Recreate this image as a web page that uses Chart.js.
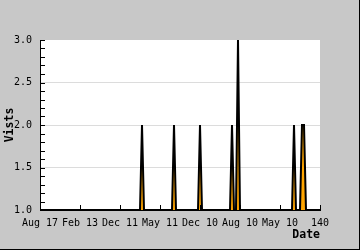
<!DOCTYPE html>
<html><head><meta charset="utf-8">
<script src="https://cdn.jsdelivr.net/npm/chart.js@4"></script>
<style>html,body{margin:0;padding:0;background:#c8c8c8;}canvas{display:block;}</style>
</head><body>
<canvas id="c" width="360" height="250"></canvas>
<script>
// Data (day index vs number of visits)
const dayIndex = [0, 50, 51, 52, 66, 67, 68, 79, 80, 81, 95, 96, 97, 98, 99, 100, 126, 127, 128, 130, 131, 132, 133, 140];
const visits   = [1, 1,  2,  1,  1,  2,  1,  1,  2,  1,  1,  2,  1,  1,  3,  1,   1,   2,   1,   1,   2,   2,   1,   1];
const xTickValues = [0, 20, 40, 60, 80, 100, 120, 140];
const xTickLabels = ['Aug 17', 'Feb 13', 'Dec 11', 'May 11', 'Dec 10', 'Aug 10', 'May 10', '140'];
const yTickValues = [1.0, 1.5, 2.0, 2.5, 3.0];

const FONT = '"DejaVu Sans Mono", "Liberation Mono", monospace';

const frame = {
  id: 'frame',
  beforeDraw(chart) {
    const {ctx, chartArea: a} = chart;
    ctx.save();
    ctx.fillStyle = '#c8c8c8';
    ctx.fillRect(0, 0, chart.width, chart.height);
    ctx.fillStyle = '#ffffff';
    ctx.fillRect(a.left, a.top, a.right - a.left, a.bottom - a.top);
    ctx.fillStyle = '#000000';
    ctx.fillRect(chart.width - 1, 0, 1, chart.height);
    ctx.fillRect(0, chart.height - 1, chart.width, 1);
    ctx.restore();
  },
  afterDraw(chart) {
    const {ctx, chartArea: a, scales: {x, y}} = chart;
    ctx.save();
    ctx.strokeStyle = '#000';
    ctx.lineWidth = 1;
    ctx.beginPath();
    for (let i = 0; i <= 20; i++) {
      const py = Math.round(y.getPixelForValue(1 + i * 0.1)) + 0.5;
      ctx.moveTo(a.left, py);
      ctx.lineTo(a.left + 5, py);
    }
    xTickValues.forEach(v => {
      const px = Math.round(x.getPixelForValue(v)) + 0.5;
      ctx.moveTo(px, a.bottom);
      ctx.lineTo(px, a.bottom - 5);
    });
    ctx.stroke();
    ctx.restore();
  }
};

new Chart(document.getElementById('c'), {
  type: 'line',
  data: {
    datasets: [{
      data: dayIndex.map((d, i) => ({x: d, y: visits[i]})),
      borderColor: '#000000',
      borderWidth: 2,
      backgroundColor: '#ffa500',
      fill: 'start',
      pointRadius: 0,
      tension: 0
    }]
  },
  options: {
    responsive: false,
    animation: false,
    devicePixelRatio: 1,
    layout: {padding: {top: 40, right: 40, left: 0, bottom: 0}},
    plugins: {legend: {display: false}, tooltip: {enabled: false}},
    scales: {
      x: {
        type: 'linear',
        min: 0, max: 140,
        afterFit(s) { s.height = 40; },
        afterBuildTicks(s) { s.ticks = xTickValues.map(v => ({value: v})); },
        ticks: {
          autoSkip: false, maxRotation: 0, padding: 7,
          color: '#000',
          font: {family: FONT, size: 10},
          callback: (v) => xTickLabels[xTickValues.indexOf(v)]
        },
        grid: {display: false, drawTicks: false},
        border: {display: true, color: '#000', width: 1},
        title: {
          display: true, text: 'Date', align: 'end', color: '#000',
          font: {family: FONT, size: 11.5, weight: 'bold'},
          padding: {top: 0, bottom: 7.6}
        }
      },
      y: {
        type: 'linear',
        min: 1, max: 3,
        afterFit(s) { s.width = 40; },
        afterBuildTicks(s) { s.ticks = yTickValues.map(v => ({value: v})); },
        ticks: {
          padding: 8, color: '#000',
          font: {family: FONT, size: 10},
          callback: (v) => Number(v).toFixed(1)
        },
        grid: {
          drawTicks: false,
          color: (c) => (c.tick && (c.tick.value === 3 || c.tick.value === 1)) ? 'rgba(0,0,0,0)' : '#dcdcdc'
        },
        border: {display: true, color: '#000', width: 1},
        title: {
          display: true, text: 'Vists', color: '#000',
          font: {family: FONT, size: 11.5, weight: 'bold'},
          padding: {top: 3.1, bottom: 0}
        }
      }
    }
  },
  plugins: [frame]
});
</script>
</body></html>
